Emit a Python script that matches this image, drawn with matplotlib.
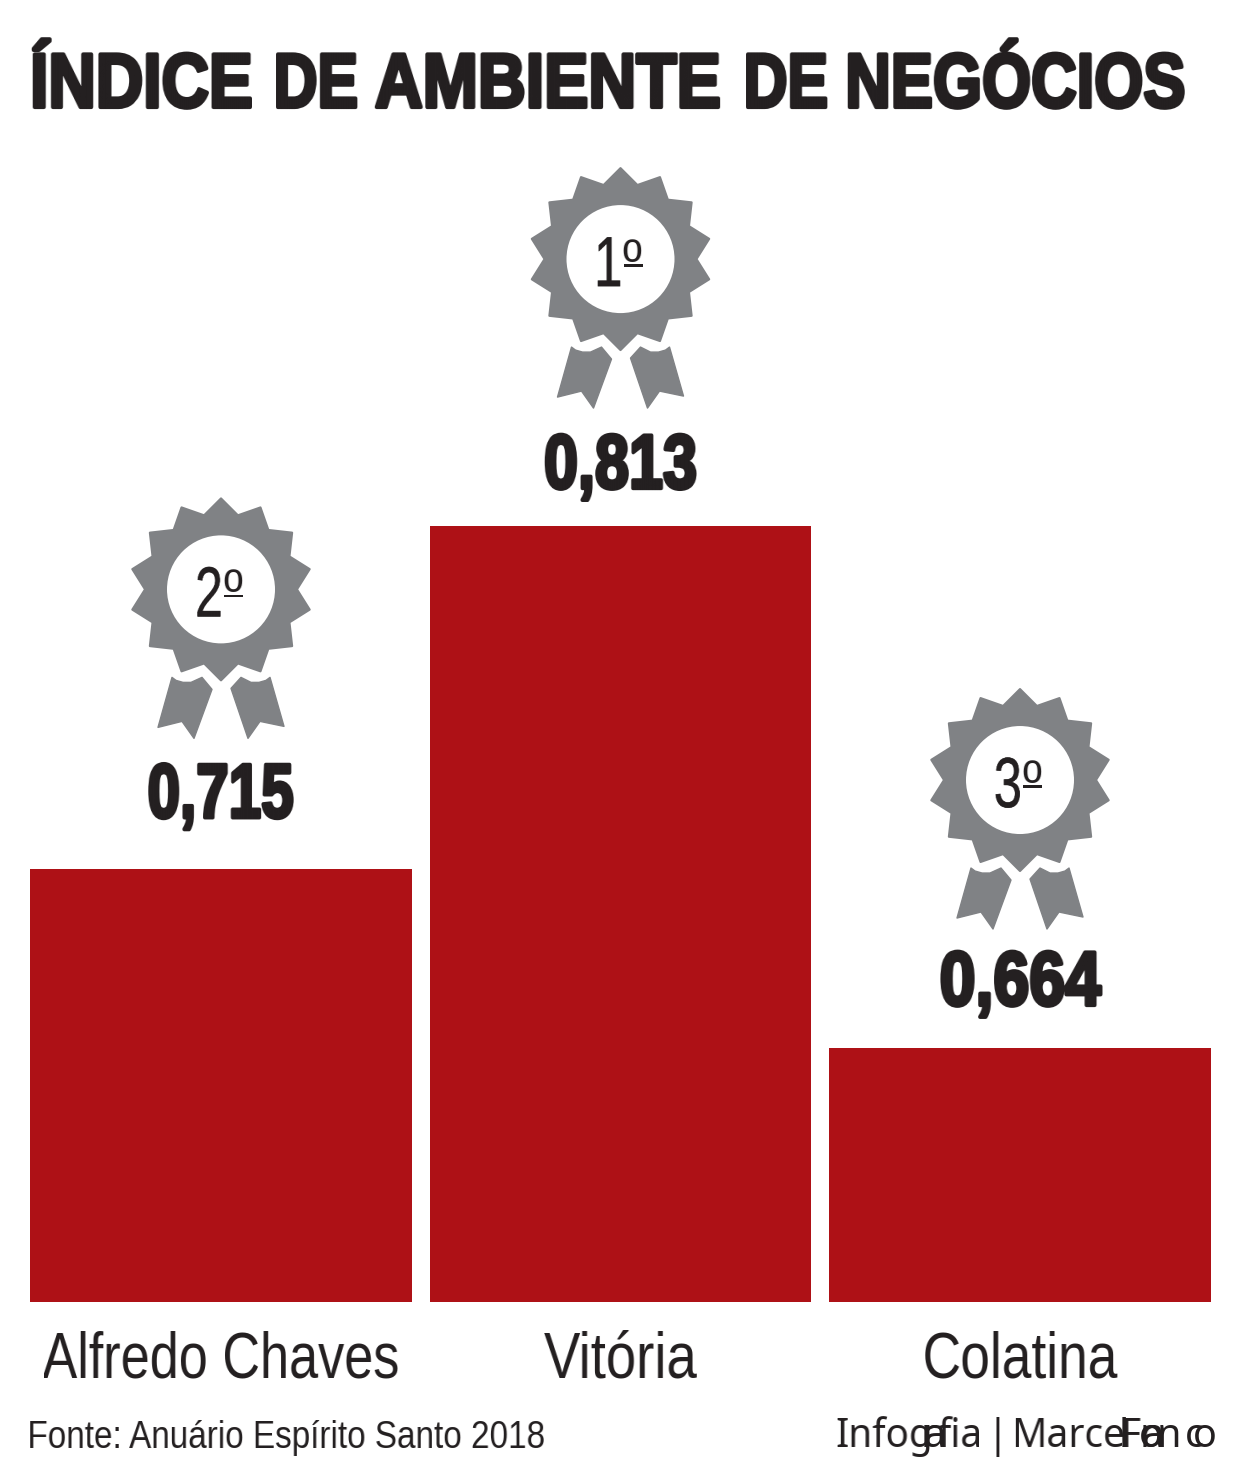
"""Indice de ambiente de negocios: three red bars with rank medals."""

import matplotlib
matplotlib.use("Agg")
import matplotlib.pyplot as plt
import matplotlib.patheffects as pe
import numpy as np
from matplotlib.colors import to_rgb
from matplotlib.patches import Circle, Polygon, Rectangle
from matplotlib.transforms import Affine2D

W, H = 1244, 1484
RED = "#ae1116"
GREY = "#808285"
INK = "#231f20"
SANS = "Liberation Sans"

# title words with their left and right edges in the reference
title_words = [("ÍNDICE", 30, 251), ("DE", 273, 355), ("AMBIENTE", 375, 722),
               ("DE", 743, 825), ("NEGÓCIOS", 845, 1183)]
SOURCE = "Fonte: Anuário Espírito Santo 2018"
cities = ["Alfredo Chaves", "Vitória", "Colatina"]
values = [0.715, 0.813, 0.664]
value_labels = ["0,715", "0,813", "0,664"]
ranks = ["2", "1", "3"]

# the designer nudged these by hand, pixels above the bar top
MEDAL_LIFT = [280, 267, 268]
VALUE_LIFT = [52, 38, 43]
CITY_WIDTH = [354, 153, 193]
VALUE_WIDTH = [146, 153, 163]

# the credit line has broken kerning in the original, so it goes in pieces
CREDIT = [("Infog", 835), ("r", 921), ("a", 923), ("fia", 937), ("|", 987), ("Marce", 1011),
          ("l", 1119), ("o", 1139), ("Fr", 1120), ("a", 1141), ("n", 1157),
          ("c", 1185), ("o", 1193)]

# ribbon outlines, pixels from the medal centre (y up)
RIBBON_L = [(-49, -88), (-45, -91), (-38, -93), (-30, -93), (-19, -88), (-9, -100),
            (-27, -149), (-39, -132), (-63, -138)]
RIBBON_R = [(10, -99), (20, -88), (30, -93), (38, -93), (45, -91), (49, -88),
            (63, -137), (39, -132), (27, -149)]


def squeeze_filter(width=None, k=None, center=False, shift=0, color=INK):
    """Agg filter: narrow a text's ink horizontally, there is no condensed font here."""
    rgb = to_rgb(color)

    def _filter(img, dpi):
        a = img[..., 3]
        h, w = a.shape
        tw = int(round(width if width else w * k))
        cum = np.hstack([np.zeros((h, 1)), np.cumsum(a, axis=1)])
        edges = np.linspace(0, w, tw + 1)
        lo = np.minimum(edges.astype(int), w - 1)
        frac = (edges - lo)[None, :]
        at = cum[:, lo] * (1 - frac) + cum[:, lo + 1] * frac
        out = np.zeros((h, tw, 4))
        out[..., :3] = rgb
        out[..., 3] = np.clip(np.diff(at, axis=1) * tw / w, 0, 1)
        ox = shift + ((w - tw) // 2 if center else 0)
        return out, int(ox), 0

    return _filter


def px_text(x, y, s, width=None, k=None, center=False, heavy=0, **kw):
    """Figure text placed by reference pixels, narrowed by the filter."""
    kw.setdefault("color", INK)
    kw.setdefault("family", SANS)
    t = fig.text(x / W, 1 - y / H, s, va="baseline", ha="center" if center else "left", **kw)
    if heavy:
        t.set_path_effects([pe.withStroke(linewidth=heavy, foreground=INK)])
    shift = 0
    if not center:
        # keep the unsqueezed text on the canvas, the filter moves it back
        natural = t.get_window_extent(fig.canvas.get_renderer()).width
        if x + natural > W - 4:
            shift = x - (W - 4 - natural)
            t.set_x((x - shift) / W)
    t.set_agg_filter(squeeze_filter(width, k, center, shift))
    return t


def draw_medal(ax, cx, cy, rank):
    tr = Affine2D().translate(cx, cy)
    n = 14
    ang = np.pi / 2 + np.arange(2 * n) * np.pi / n
    rad = np.where(np.arange(2 * n) % 2 == 0, 91, 76)
    star = np.column_stack([rad * np.cos(ang), rad * np.sin(ang)])
    ax.add_patch(Polygon(star, closed=True, fc=GREY, ec=GREY, lw=1.5, joinstyle="round",
                         transform=tr, clip_on=False))
    ax.add_patch(Circle((0, 0), 54, fc="white", ec="none", transform=tr, clip_on=False))
    for rib in (RIBBON_L, RIBBON_R):
        ax.add_patch(Polygon(rib, closed=True, fc=GREY, ec=GREY, lw=1, joinstyle="round",
                             transform=tr, clip_on=False))
    fx, fy = cx, H - cy
    px_text(fx - 12, fy + 27, rank, k=0.72, center=True, heavy=0.4, fontsize=51)
    px_text(fx + 12, fy + 22, "º", k=0.85, center=True, fontsize=43)
    ax.add_patch(Rectangle((3, -8), 19, 2.6, fc=INK, ec="none", transform=tr, clip_on=False))


fig = plt.figure(figsize=(W / 100, H / 100), dpi=100, facecolor="white")

# bars sit on a cut axis: 3503 px per unit, baseline 0.5915
ax = fig.add_axes([21.25 / W, 1 - 1302 / H, 1198.5 / W, 1142 / H])
ax.set_xlim(-0.5, 2.5)
ax.set_ylim(0.5915, 0.5915 + 1142 / 3503)
ax.axis("off")
ax.bar(range(3), values, width=0.956, color=RED, linewidth=0)

for word, left, right in title_words:
    px_text(left, 107, word, width=right - left, weight="bold", fontsize=55, heavy=3)

for i, (v, lab, city, rank) in enumerate(zip(values, value_labels, cities, ranks)):
    x0, y0 = ax.transData.transform((i, v))
    draw_medal(ax, x0, y0 + MEDAL_LIFT[i], rank)
    px_text(x0, H - y0 - VALUE_LIFT[i], lab, width=VALUE_WIDTH[i], center=True,
            weight="bold", fontsize=55, heavy=3)
    px_text(x0, 1378, city, width=CITY_WIDTH[i], center=True, fontsize=47)

px_text(27, 1448, SOURCE, width=514, fontsize=28)
for part, x in CREDIT:
    px_text(x, 1447, part, k=0.98, family="Noto Sans", fontsize=28.5)

fig.savefig("out.png", dpi=100)
